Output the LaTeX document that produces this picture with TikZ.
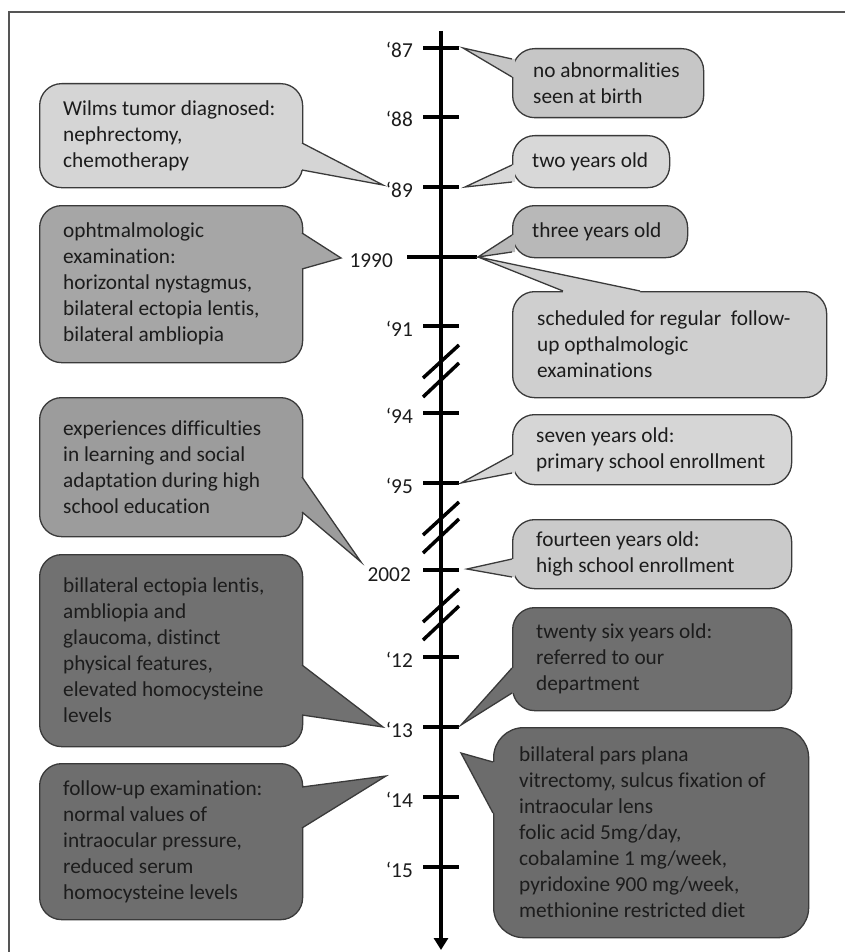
\documentclass[tikz,border=0pt]{standalone}
\usepackage{fontspec}
\setmainfont{Carlito}[Ligatures={TeX,NoCommon}]
\usetikzlibrary{arrows.meta,calc}
\newcommand{\bfnt}{\fontsize{21.3}{26}\selectfont}
\definecolor{edgegray}{HTML}{3A3A3A}
\definecolor{txtgray}{HTML}{1C1C1C}
\definecolor{framegray}{HTML}{555555}
\definecolor{cA}{HTML}{C6C6C6}
\definecolor{cB}{HTML}{D8D8D8}
\definecolor{cC}{HTML}{B8B8B8}
\definecolor{cD}{HTML}{CFCFCF}
\definecolor{cE}{HTML}{D6D6D6}
\definecolor{cF}{HTML}{CACACA}
\definecolor{cG}{HTML}{6F6F6F}
\definecolor{cH}{HTML}{6C6C6C}
\definecolor{cI}{HTML}{D5D5D5}
\definecolor{cJ}{HTML}{A6A6A6}
\definecolor{cK}{HTML}{9C9C9C}
\definecolor{cL}{HTML}{717171}
\definecolor{cM}{HTML}{6E6E6E}
% pointer of a bubble: fill, base point, tip, base point, shift into the box
\newcommand{\pointer}[5]{%
  \fill[#1] ($#2+#5$) -- #2 -- #3 -- #4 -- ($#4+#5$) -- cycle;
  \draw[ptr] #2 -- #3 -- #4;}

\begin{document}
\begin{tikzpicture}[x=1pt,y=-1pt,
   bubble/.style={draw=edgegray,line width=1.3pt,rounded corners=22pt,anchor=north west,inner sep=0pt},
   txt/.style={font=\bfnt,text=txtgray,align=left,anchor=west,inner sep=0pt},
   yr/.style={font=\bfnt,text=txtgray,anchor=base east,inner sep=0pt},
   tickline/.style={line width=4pt},
   brk/.style={line width=3.5pt},
   ptr/.style={draw=edgegray,line width=1.3pt,line join=miter}]
   \useasboundingbox (0,0) rectangle (844,952);
   \draw[framegray,line width=1.2pt] (9,970) -- (9,12) -- (860,12);

   % time axis
   \draw[line width=4pt,-{Triangle[length=12pt,width=14pt]}] (441,31) -- (441,950);
   \draw[tickline] (423,48) -- (459,48);   \node[yr] (y87) at (413,58) {‘87};
   \draw[tickline] (423,117) -- (459,117); \node[yr] (y88) at (413,127) {‘88};
   \draw[tickline] (423,187) -- (459,187); \node[yr] (y89) at (413,197) {‘89};
   \draw[tickline] (407,257) -- (477,257); \node[yr] (y90) at (393,267) {1990};
   \draw[tickline] (423,326) -- (459,326); \node[yr] (y91) at (413,336) {‘91};
   \draw[tickline] (423,413) -- (459,413); \node[yr] (y94) at (413,423) {‘94};
   \draw[tickline] (423,483) -- (459,483); \node[yr] (y95) at (413,493) {‘95};
   \draw[tickline] (423,570) -- (459,570); \node[yr] (y02) at (411,581) {2002};
   \draw[tickline] (423,657) -- (459,657); \node[yr] (y12) at (413,667) {‘12};
   \draw[tickline] (423,727) -- (459,727); \node[yr] (y13) at (413,737) {‘13};
   \draw[tickline] (423,797) -- (459,797); \node[yr] (y14) at (413,807) {‘14};
   \draw[tickline] (423,867) -- (459,867); \node[yr] (y15) at (413,877) {‘15};
   % breaks
   \draw[brk] (423,378) -- (459,345) (423,397) -- (459,363);
   \draw[brk] (423,535) -- (459,502) (423,553) -- (459,519);
   \draw[brk] (423,622) -- (459,589) (423,640) -- (459,606);

   % pointer tips
   \coordinate (pA) at (463,48);
   \coordinate (pB) at (465,187);
   \coordinate (pC) at (478,257);
   \coordinate (pE) at (461,483);
   \coordinate (pF) at (467,569);
   \coordinate (pG) at (461,725);
   \coordinate (pH) at (461,753);
   \coordinate (pI) at (383,185);
   \coordinate (pJ) at (341,258);
   \coordinate (pK) at (361,562);
   \coordinate (pL) at (383,727);
   \coordinate (pM) at (386,776);

   % right side
   \node[bubble,fill=cA,minimum width=191pt,minimum height=69pt] (bA) at (512,48) {};
   \pointer{cA}{(512,59)}{(pA)}{(512,77)}{(3,0)}
   \node[txt] (tA) at ([xshift=21pt]bA.west) {no abnormalities\\seen at birth};

   \node[bubble,fill=cB,minimum width=157pt,minimum height=52pt] (bB) at (512,135) {};
   \pointer{cB}{(512,165)}{(pB)}{(512,182)}{(3,0)}
   \node[txt] (tB) at ([xshift=20pt]bB.west) {two years old};

   \node[bubble,fill=cD,minimum width=314pt,minimum height=106pt] (bD) at (512,291) {};
   \pointer{cD}{(563,291)}{(pC)}{(640,291)}{(0,3)}
   \node[txt] (tD) at ([xshift=25pt]bD.west) {scheduled for regular~ follow-\\up opthalmologic\\examinations};

   \node[bubble,fill=cC,minimum width=175pt,minimum height=52pt] (bC) at (512,205) {};
   \pointer{cC}{(512,235)}{(pC)}{(512,252)}{(3,0)}
   \node[txt] (tC) at ([xshift=20pt]bC.west) {three years old};

   \node[bubble,fill=cE,minimum width=279pt,minimum height=70pt] (bE) at (512,414) {};
   \pointer{cE}{(512,455)}{(pE)}{(512,473)}{(3,0)}
   \node[txt] (tE) at ([xshift=24pt]bE.west) {seven years old:\\primary school enrollment};

   \node[bubble,fill=cF,minimum width=279pt,minimum height=69pt] (bF) at (512,519) {};
   \pointer{cF}{(512,559)}{(pF)}{(512,577)}{(3,0)}
   \node[txt] (tF) at ([xshift=24pt]bF.west) {fourteen years old:\\high school enrollment};

   \node[bubble,fill=cG,minimum width=279pt,minimum height=103pt] (bG) at (512,607) {};
   \pointer{cG}{(512,668)}{(pG)}{(512,693)}{(3,0)}
   \node[txt] (tG) at ([xshift=24pt]bG.west) {twenty six years old:\\referred to our\\department};

   \node[bubble,fill=cH,rounded corners=30pt,minimum width=315pt,minimum height=210pt] (bH) at (493,727) {};
   \pointer{cH}{(493,762)}{(pH)}{(493,813)}{(3,0)}
   \node[txt] (tH) at ([xshift=26pt]bH.west) {billateral pars plana\\vitrectomy, sulcus fixation of\\intraocular lens\\folic acid 5mg/day,\\cobalamine 1 mg/week,\\pyridoxine 900 mg/week,\\methionine restricted diet};

   % left side
   \node[bubble,fill=cI,minimum width=263pt,minimum height=104pt] (bI) at (39,83) {};
   \pointer{cI}{(302,143)}{(pI)}{(302,170)}{(-3,0)}
   \node[txt] (tI) at ([xshift=24pt]bI.west) {Wilms tumor diagnosed:\\nephrectomy,\\chemotherapy};

   \node[bubble,fill=cJ,minimum width=263pt,minimum height=157pt] (bJ) at (39,205) {};
   \pointer{cJ}{(302,233)}{(pJ)}{(302,269)}{(-3,0)}
   \node[txt] (tJ) at ([xshift=24pt]bJ.west) {ophtmalmologic\\examination:\\horizontal nystagmus,\\bilateral ectopia lentis,\\bilateral ambliopia};

   \node[bubble,fill=cK,minimum width=263pt,minimum height=139pt] (bK) at (39,397) {};
   \pointer{cK}{(302,477)}{(pK)}{(302,512)}{(-3,0)}
   \node[txt] (tK) at ([xshift=24pt]bK.west) {experiences difficulties\\in learning and social\\adaptation during high\\school education};

   \node[bubble,fill=cL,minimum width=263pt,minimum height=192pt] (bL) at (39,554) {};
   \pointer{cL}{(302,665)}{(pL)}{(302,715)}{(-3,0)}
   \node[txt] (tL) at ([xshift=24pt]bL.west) {billateral ectopia lentis,\\ambliopia and\\glaucoma, distinct\\physical features,\\elevated homocysteine\\levels};

   \node[bubble,fill=cM,minimum width=263pt,minimum height=156pt] (bM) at (39,763) {};
   \pointer{cM}{(302,787)}{(pM)}{(302,828)}{(-3,0)}
   \node[txt] (tM) at ([xshift=24pt]bM.west) {follow-up examination:\\normal values of\\intraocular pressure,\\reduced serum\\homocysteine levels};
\end{tikzpicture}
\end{document}
